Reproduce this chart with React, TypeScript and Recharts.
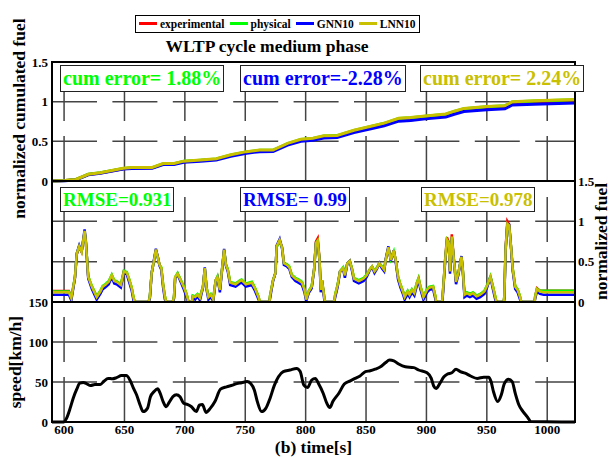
import React from 'react';
import { LineChart, Line, XAxis, YAxis, CartesianGrid, Legend, Label } from 'recharts';

// shared time axis
const timeDomain: [number, number] = [590, 1023];
const timeTicks = [600, 650, 700, 750, 800, 850, 900, 950, 1000];
const fuelTicks = [0, 0.5, 1, 1.5];
const speedTicks = [0, 50, 100, 150];

const seriesKeys = ['exp', 'phys', 'gnn', 'lnn'];
const seriesNames = ['experimental', 'physical', 'GNN10', 'LNN10'];
const seriesColors = ['#ff0000', '#00ff00', '#0000ff', '#c8c000'];

const cumErrorLabels = ['cum error= 1.88%', 'cum error=-2.28%', 'cum error= 2.24%'];
const rmseLabels = ['RMSE=0.931', 'RMSE= 0.99', 'RMSE=0.978'];

// cumulated fuel (top panel)
const cumTime = [590, 601, 610, 620, 630, 649, 656, 673, 682, 691, 699, 713, 726, 738, 751, 762, 773, 785, 796, 806, 815, 826, 840, 854, 865, 877, 887, 899, 916, 923, 931, 950, 965, 971, 989, 1023];
const cumExp = [0, 0.005, 0.02, 0.083, 0.102, 0.155, 0.165, 0.166, 0.214, 0.215, 0.244, 0.259, 0.274, 0.322, 0.361, 0.381, 0.382, 0.464, 0.513, 0.528, 0.557, 0.562, 0.626, 0.675, 0.714, 0.773, 0.783, 0.802, 0.827, 0.861, 0.895, 0.92, 0.93, 0.98, 0.99, 1.005];
const cumPhys = [0, 0.005, 0.02, 0.085, 0.104, 0.158, 0.168, 0.169, 0.218, 0.219, 0.248, 0.263, 0.278, 0.327, 0.367, 0.387, 0.388, 0.472, 0.522, 0.537, 0.567, 0.572, 0.637, 0.687, 0.727, 0.787, 0.797, 0.817, 0.842, 0.877, 0.912, 0.937, 0.947, 0.997, 1.007, 1.024];
const cumGnn = [0, 0.003, 0.015, 0.078, 0.097, 0.15, 0.159, 0.16, 0.207, 0.208, 0.236, 0.25, 0.265, 0.312, 0.35, 0.37, 0.371, 0.452, 0.5, 0.515, 0.543, 0.548, 0.61, 0.658, 0.696, 0.754, 0.764, 0.783, 0.808, 0.841, 0.875, 0.899, 0.91, 0.958, 0.968, 0.982];
const cumLnn = [0, 0.005, 0.02, 0.085, 0.105, 0.16, 0.17, 0.17, 0.22, 0.22, 0.25, 0.265, 0.28, 0.33, 0.37, 0.39, 0.39, 0.475, 0.525, 0.54, 0.57, 0.575, 0.64, 0.69, 0.73, 0.79, 0.8, 0.82, 0.845, 0.88, 0.915, 0.94, 0.95, 1.0, 1.01, 1.027];

// instantaneous fuel (middle panel)
const fuelTime = [
  590, 604, 606, 609, 610.5, 612.5, 614.5, 617, 618, 620,
  623, 627, 630, 632, 634, 637, 639.5, 641.5, 643.5, 647,
  649.5, 652, 654, 656, 657.5, 658.5, 670, 671, 672.5, 674.5,
  676, 677.5, 679, 680.5, 682, 683.5, 684.5, 690, 691, 692,
  694, 696.5, 699, 701, 702, 703, 706, 706.5, 708.5, 710.5,
  712.5, 715, 716.5, 718, 719.5, 721.5, 723.5, 725.5, 727, 729,
  731, 732.5, 734, 735.5, 737.5, 742, 745.5, 747, 750.5, 755.5,
  758, 761, 762, 770, 770.5, 773, 775, 776, 778.5, 780.5,
  782, 784.5, 786.5, 788.5, 791.5, 794, 797, 799, 800.5, 802.5,
  805, 807, 808.5, 810, 811.5, 812.5, 813.5, 815.5, 816, 823.5,
  824.5, 826.5, 828.5, 831, 832.5, 834.5, 836.5, 838.5, 840, 844,
  848, 850.5, 853, 855, 857, 859, 861, 863, 865, 866.5,
  868.5, 870.5, 873, 874.5, 876.5, 878.5, 880.5, 882, 884.5, 886,
  888, 890, 892, 893.5, 895, 897.5, 900.5, 902.5, 905.5, 907.5,
  908, 913, 913.5, 915.5, 917, 918.5, 919.5, 921, 922.5, 924.5,
  926.5, 929, 930, 931.5, 933.5, 936, 938.5, 941.5, 944.5, 948,
  950.5, 953, 955, 957, 958, 964, 964.5, 965.5, 967, 968.5,
  970, 971.5, 973.5, 975.5, 977.5, 978.5, 989.5, 990, 991.5, 994,
  997, 1023,
];
const fuelExp = [
  0.135, 0.135, 0.05, 0.3, 0.59, 0.68, 0.62, 0.87, 0.74, 0.31,
  0.19, 0.07, 0.13, 0.19, 0.21, 0.25, 0.33, 0.26, 0.25, 0.21,
  0.38, 0.35, 0.27, 0.17, 0.05, 0, 0, 0.06, 0.35, 0.52,
  0.64, 0.57, 0.46, 0.42, 0.21, 0.06, 0, 0, 0.06, 0.3,
  0.35, 0.27, 0.19, 0.11, 0.06, 0, 0, 0.07, 0.07, 0.09,
  0.06, 0.19, 0.41, 0.17, 0.07, 0.09, 0.04, 0.27, 0.31, 0.15,
  0.44, 0.64, 0.46, 0.4, 0.24, 0.22, 0.26, 0.27, 0.22, 0.24,
  0.17, 0.06, 0, 0, 0.07, 0.27, 0.36, 0.69, 0.76, 0.68,
  0.49, 0.46, 0.43, 0.33, 0.29, 0.27, 0.24, 0.15, 0.04, 0.13,
  0.19, 0.4, 0.75, 0.79, 0.53, 0.15, 0.27, 0.05, 0, 0,
  0.09, 0.21, 0.38, 0.42, 0.33, 0.48, 0.51, 0.4, 0.29, 0.26,
  0.29, 0.33, 0.4, 0.44, 0.38, 0.42, 0.48, 0.44, 0.4, 0.54,
  0.67, 0.52, 0.64, 0.52, 0.31, 0.21, 0.13, 0.07, 0.13, 0.09,
  0.15, 0.11, 0.23, 0.29, 0.19, 0.06, 0.15, 0.18, 0.19, 0.06,
  0, 0, 0.09, 0.53, 0.8, 0.74, 0.38, 0.84, 0.57, 0.25,
  0.36, 0.56, 0.42, 0.1, 0.11, 0.1, 0.11, 0.08, 0.09, 0.13,
  0.21, 0.31, 0.19, 0.06, 0, 0, 0.07, 0.66, 1.0, 0.96,
  0.69, 0.4, 0.19, 0.15, 0.06, 0, 0, 0.07, 0.17, 0.14,
  0.14, 0.14,
];
const fuelPhys = [
  0.13, 0.13, 0.05, 0.31, 0.6, 0.69, 0.63, 0.87, 0.75, 0.32,
  0.2, 0.07, 0.14, 0.2, 0.22, 0.26, 0.34, 0.27, 0.26, 0.22,
  0.39, 0.37, 0.28, 0.18, 0.06, 0, 0, 0.07, 0.36, 0.51,
  0.64, 0.56, 0.46, 0.43, 0.22, 0.07, 0, 0, 0.07, 0.31,
  0.36, 0.28, 0.2, 0.12, 0.07, 0, 0, 0.08, 0.07, 0.1,
  0.06, 0.19, 0.41, 0.18, 0.07, 0.1, 0.04, 0.27, 0.32, 0.16,
  0.44, 0.64, 0.47, 0.41, 0.25, 0.23, 0.27, 0.28, 0.23, 0.25,
  0.18, 0.07, 0, 0, 0.08, 0.27, 0.36, 0.68, 0.76, 0.67,
  0.48, 0.47, 0.44, 0.34, 0.3, 0.28, 0.25, 0.16, 0.04, 0.14,
  0.2, 0.4, 0.73, 0.76, 0.52, 0.16, 0.27, 0.06, 0, 0,
  0.1, 0.22, 0.38, 0.43, 0.34, 0.48, 0.51, 0.41, 0.3, 0.27,
  0.3, 0.34, 0.4, 0.44, 0.39, 0.43, 0.48, 0.45, 0.41, 0.54,
  0.67, 0.53, 0.63, 0.52, 0.32, 0.22, 0.14, 0.07, 0.14, 0.1,
  0.16, 0.12, 0.24, 0.3, 0.2, 0.07, 0.16, 0.19, 0.2, 0.07,
  0, 0, 0.1, 0.52, 0.77, 0.73, 0.39, 0.8, 0.56, 0.26,
  0.37, 0.56, 0.43, 0.1, 0.12, 0.1, 0.12, 0.08, 0.1, 0.14,
  0.22, 0.32, 0.2, 0.07, 0, 0, 0.08, 0.64, 0.96, 0.94,
  0.69, 0.41, 0.2, 0.16, 0.07, 0, 0, 0.07, 0.16, 0.14,
  0.14, 0.14,
];
const fuelGnn = [
  0.09, 0.09, 0.02, 0.3, 0.6, 0.7, 0.62, 0.9, 0.76, 0.29,
  0.16, 0.03, 0.1, 0.16, 0.18, 0.22, 0.31, 0.23, 0.22, 0.18,
  0.37, 0.34, 0.24, 0.14, 0.02, 0, 0, 0.04, 0.36, 0.53,
  0.66, 0.56, 0.45, 0.4, 0.18, 0.03, 0, 0, 0.04, 0.3,
  0.34, 0.25, 0.16, 0.08, 0.03, 0, 0, 0.05, 0.03, 0.07,
  0.02, 0.18, 0.43, 0.15, 0.03, 0.06, 0.01, 0.26, 0.3, 0.12,
  0.43, 0.66, 0.45, 0.38, 0.21, 0.19, 0.23, 0.24, 0.19, 0.21,
  0.14, 0.03, 0, 0, 0.04, 0.26, 0.36, 0.7, 0.78, 0.66,
  0.46, 0.44, 0.41, 0.31, 0.26, 0.24, 0.21, 0.12, 0.01, 0.11,
  0.17, 0.4, 0.73, 0.75, 0.51, 0.12, 0.26, 0.02, 0, 0,
  0.06, 0.19, 0.38, 0.41, 0.3, 0.48, 0.51, 0.38, 0.26, 0.23,
  0.26, 0.31, 0.39, 0.43, 0.36, 0.41, 0.48, 0.42, 0.38, 0.55,
  0.69, 0.51, 0.64, 0.5, 0.28, 0.18, 0.1, 0.03, 0.1, 0.06,
  0.12, 0.08, 0.2, 0.27, 0.16, 0.03, 0.12, 0.15, 0.16, 0.03,
  0, 0, 0.06, 0.5, 0.75, 0.72, 0.35, 0.8, 0.55, 0.22,
  0.34, 0.57, 0.4, 0.06, 0.08, 0.06, 0.08, 0.04, 0.06, 0.1,
  0.19, 0.31, 0.16, 0.03, 0, 0, 0.04, 0.63, 0.97, 0.96,
  0.68, 0.38, 0.16, 0.12, 0.03, 0, 0, 0.04, 0.13, 0.1,
  0.09, 0.09,
];
const fuelLnn = [
  0.12, 0.12, 0.045, 0.31, 0.6, 0.69, 0.62, 0.88, 0.75, 0.31,
  0.19, 0.06, 0.13, 0.19, 0.21, 0.25, 0.33, 0.26, 0.25, 0.21,
  0.38, 0.36, 0.27, 0.17, 0.05, 0, 0, 0.06, 0.36, 0.52,
  0.65, 0.56, 0.46, 0.42, 0.21, 0.06, 0, 0, 0.06, 0.31,
  0.35, 0.27, 0.19, 0.11, 0.06, 0, 0, 0.07, 0.06, 0.09,
  0.05, 0.19, 0.42, 0.17, 0.06, 0.09, 0.03, 0.27, 0.31, 0.15,
  0.44, 0.65, 0.46, 0.4, 0.24, 0.22, 0.26, 0.27, 0.22, 0.24,
  0.17, 0.06, 0, 0, 0.07, 0.27, 0.36, 0.69, 0.77, 0.67,
  0.48, 0.46, 0.43, 0.33, 0.29, 0.27, 0.24, 0.15, 0.03, 0.13,
  0.19, 0.4, 0.73, 0.76, 0.52, 0.15, 0.27, 0.05, 0, 0,
  0.09, 0.21, 0.38, 0.42, 0.33, 0.48, 0.51, 0.4, 0.29, 0.26,
  0.29, 0.33, 0.4, 0.44, 0.38, 0.42, 0.48, 0.44, 0.4, 0.54,
  0.68, 0.52, 0.64, 0.52, 0.31, 0.21, 0.13, 0.06, 0.13, 0.09,
  0.15, 0.11, 0.23, 0.29, 0.19, 0.06, 0.15, 0.18, 0.19, 0.06,
  0, 0, 0.09, 0.52, 0.77, 0.73, 0.38, 0.81, 0.56, 0.25,
  0.36, 0.56, 0.42, 0.09, 0.11, 0.09, 0.11, 0.07, 0.09, 0.13,
  0.21, 0.31, 0.19, 0.06, 0, 0, 0.07, 0.64, 0.97, 0.95,
  0.69, 0.4, 0.19, 0.15, 0.06, 0, 0, 0.06, 0.16, 0.13,
  0.12, 0.12,
];

// vehicle speed (bottom panel)
const speedTime = [
  590, 600, 602, 605, 607.5, 610.5, 613, 616, 618.5, 622,
  625.5, 630, 633, 636.5, 640, 643.5, 647.5, 651.5, 654.5, 657.5,
  660, 663, 665.5, 669, 671.5, 674.5, 677.5, 679.5, 682, 684.5,
  687, 690, 693, 696, 699, 702, 705.5, 709.5, 712, 714.5,
  717.5, 721, 725, 729.5, 734.5, 739.5, 743, 747, 751.5, 754.5,
  757.5, 760, 763.5, 767, 770.5, 774, 777.5, 781.5, 787, 792.5,
  795.5, 798.5, 801.5, 805, 808, 810.5, 814.5, 817.5, 820, 822.5,
  827.5, 832, 837, 841, 845, 849.5, 853.5, 857.5, 862, 866,
  869.5, 873, 877, 882.5, 889.5, 893.5, 900.5, 904, 906, 908,
  911, 914.5, 917.5, 921, 924.5, 928, 932, 936.5, 942, 947.5,
  951.5, 953.5, 955.5, 959, 962, 964.5, 968, 971, 973.5, 976.5,
  980, 983.5, 986.5, 1023,
];
const speed = [
  0, 0, 4.5, 17, 29.5, 41, 48.5, 49.5, 48, 45.5,
  47, 47, 51, 54.5, 54, 55.5, 58, 58, 52.5, 42,
  34, 21, 13, 17, 31.5, 38, 41.5, 36, 25.5, 19,
  24.5, 31.5, 34, 31.5, 23.5, 22, 19, 13, 21, 22,
  12, 17, 26, 41, 44, 46, 48, 49, 50.5, 48,
  40, 25.5, 13, 17, 29.5, 45.5, 56.5, 63, 65, 67,
  63, 46, 43, 52.5, 54.5, 48.5, 36, 23.5, 18, 25.5,
  36, 47.5, 51.5, 54.5, 57.5, 63, 64, 66, 69, 74,
  77.5, 76.5, 72.5, 69, 68, 65, 61.5, 54.5, 45, 42,
  48, 56.5, 60, 61.5, 66, 63, 61, 57.5, 54.5, 56,
  56, 50.5, 38, 25.5, 34, 48, 53.5, 50.5, 36, 21.5,
  13, 6.5, 0.5, 0,
];

const cumRows = cumTime.map((t, i) => ({ t, exp: cumExp[i], phys: cumPhys[i], gnn: cumGnn[i], lnn: cumLnn[i] }));
const fuelRows = fuelTime.map((t, i) => ({ t, exp: fuelExp[i], phys: fuelPhys[i], gnn: fuelGnn[i], lnn: fuelLnn[i] }));
const speedRows = speedTime.map((t, i) => ({ t, v: speed[i] }));

// page layout
const W = 611;
const H = 457;
const PLOT_L = 52;
const PLOT_R = 575;
const AXIS_W = 40;
const panels = [
  { top: 62, bottom: 181 },
  { top: 181, bottom: 302 },
  { top: 302, bottom: 422 },
];
const SERIF = '"Liberation Serif", "Times New Roman", serif';
const GRID = '#444';

const tickFont = { fill: '#000', fontSize: 13, fontWeight: 700, fontFamily: SERIF };
const titleFont: React.CSSProperties = { fontFamily: SERIF, fontWeight: 700, fontSize: 17.5, fill: '#000' };

// rotated axis title, placed relative to the axis box
const sideTitle = (text: string, dx: number, dy: number) => (props: any) => {
  const vb = props.viewBox || {};
  const x = vb.x + dx;
  const y = vb.y + vb.height / 2 + dy;
  return (
    <text x={x} y={y} transform={`rotate(-90 ${x} ${y})`} textAnchor="middle" style={titleFont}>
      {text}
    </text>
  );
};

const bottomTitle = (text: string) => (props: any) => {
  const vb = props.viewBox || {};
  return (
    <text x={vb.x + vb.width / 2} y={vb.y + 31} textAnchor="middle" style={titleFont}>
      {text}
    </text>
  );
};

const LegendBox = ({ payload }: any) => {
  const items = [...(payload || [])].sort(
    (a: any, b: any) => seriesNames.indexOf(a.value) - seriesNames.indexOf(b.value),
  );
  return (
    <div
      style={{
        display: 'inline-flex',
        alignItems: 'center',
        height: 18,
        padding: '0 3px 0 3px',
        border: '1.5px solid #000',
        background: '#fff',
        boxSizing: 'border-box',
        fontFamily: SERIF,
        fontWeight: 700,
        fontSize: 11.5,
        whiteSpace: 'nowrap',
      }}
    >
      {items.map((item: any, i: number) => (
        <span key={item.value} style={{ display: 'inline-flex', alignItems: 'center', marginLeft: i ? 5 : 0 }}>
          <span style={{ display: 'inline-block', width: 18, height: 3, background: item.color, marginRight: 3 }} />
          {item.value}
        </span>
      ))}
    </div>
  );
};

const Tag = ({ left, top, height, color, fontSize, text }: any) => (
  <div
    style={{
      position: 'absolute',
      left,
      top,
      height,
      lineHeight: `${height - 2}px`,
      padding: '0 2px',
      border: '1px solid #222',
      background: '#fff',
      boxSizing: 'border-box',
      color,
      fontFamily: SERIF,
      fontWeight: 700,
      fontSize,
      whiteSpace: 'pre',
    }}
  >
    {text}
  </div>
);

const renderSeries = (width: number) =>
  seriesKeys.map((k, i) => (
    <Line
      key={k}
      type="linear"
      dataKey={k}
      name={seriesNames[i]}
      stroke={seriesColors[i]}
      strokeWidth={width}
      dot={false}
      activeDot={false}
      isAnimationActive={false}
    />
  ));

const grids = (panelHeight: number, yTicks: number[]) => [
  <CartesianGrid key="h" vertical={false} stroke={GRID} strokeWidth={1.5} strokeDasharray="45 15.4" horizontalValues={yTicks} />,
  <CartesianGrid
    key="v"
    horizontal={false}
    stroke={GRID}
    strokeWidth={1.5}
    strokeDasharray="45 15"
    strokeDashoffset={(((45 - panelHeight) % 60) + 60) % 60}
    verticalValues={timeTicks}
  />,
];

const layer: React.CSSProperties = { position: 'absolute', left: 0, top: 0 };

export default function App() {
  const [cum, fuel, spd] = panels;
  const tagX = [60, 240, 420];
  return (
    <div style={{ position: 'absolute', left: 0, top: 0, width: W, height: H, background: '#fff', overflow: 'hidden' }}>
      <div style={layer}>
        <LineChart
          width={W}
          height={H}
          data={cumRows}
          margin={{ top: cum.top, bottom: H - cum.bottom, left: PLOT_L - AXIS_W, right: W - PLOT_R }}
        >
          {grids(cum.bottom - cum.top, fuelTicks)}
          <XAxis type="number" dataKey="t" domain={timeDomain} ticks={timeTicks} hide allowDataOverflow />
          <YAxis
            domain={[0, 1.5]}
            ticks={fuelTicks}
            interval={0}
            width={AXIS_W}
            axisLine={false}
            tickLine={false}
            tickSize={0}
            tickMargin={4}
            tick={tickFont}
          >
            <Label content={sideTitle('normalized cumulated fuel', 13, -3)} />
          </YAxis>
          {renderSeries(3)}
          <Legend
            layout="horizontal"
            verticalAlign="middle"
            align="center"
            wrapperStyle={{ left: 135, top: 11, width: 'auto', height: 'auto' }}
            content={LegendBox}
          />
        </LineChart>
      </div>

      <div style={layer}>
        <LineChart
          width={W}
          height={H}
          data={fuelRows}
          margin={{ top: fuel.top, bottom: H - fuel.bottom, left: PLOT_L, right: W - PLOT_R - 30 }}
        >
          {grids(fuel.bottom - fuel.top, fuelTicks)}
          <XAxis type="number" dataKey="t" domain={timeDomain} ticks={timeTicks} hide allowDataOverflow />
          <YAxis
            orientation="right"
            domain={[0, 1.5]}
            ticks={fuelTicks}
            interval={0}
            width={30}
            allowDataOverflow
            axisLine={false}
            tickLine={false}
            tickSize={0}
            tickMargin={3}
            tick={tickFont}
          >
            <Label content={sideTitle('normalized fuel', 32, 0)} />
          </YAxis>
          {renderSeries(2.5)}
        </LineChart>
      </div>

      <div style={layer}>
        <LineChart
          width={W}
          height={H}
          data={speedRows}
          margin={{ top: spd.top, bottom: H - spd.bottom - 30, left: PLOT_L - AXIS_W, right: W - PLOT_R }}
        >
          {grids(spd.bottom - spd.top, speedTicks)}
          <XAxis
            type="number"
            dataKey="t"
            domain={timeDomain}
            ticks={timeTicks}
            interval={0}
            height={30}
            allowDataOverflow
            axisLine={false}
            tickLine={false}
            tickSize={0}
            tickMargin={3}
            tick={tickFont}
          >
            <Label content={bottomTitle('(b) time[s]')} />
          </XAxis>
          <YAxis
            domain={[0, 150]}
            ticks={speedTicks}
            interval={0}
            width={AXIS_W}
            axisLine={false}
            tickLine={false}
            tickSize={0}
            tickMargin={4}
            tick={tickFont}
          >
            <Label content={sideTitle('speed[km/h]', 9, 0)} />
          </YAxis>
          <Line
            type="monotone"
            dataKey="v"
            name="speed"
            stroke="#000"
            strokeWidth={3}
            dot={false}
            activeDot={false}
            isAnimationActive={false}
          />
        </LineChart>
      </div>

      <svg width={W} height={H} style={{ ...layer, pointerEvents: 'none' }}>
        {panels.map((p, i) => (
          <rect key={i} x={PLOT_L} y={p.top} width={PLOT_R - PLOT_L} height={p.bottom - p.top} fill="none" stroke="#000" strokeWidth={2} />
        ))}
        <text x={267} y={52} textAnchor="middle" style={titleFont}>
          WLTP cycle medium phase
        </text>
      </svg>

      {cumErrorLabels.map((txt, i) => (
        <Tag key={txt} left={tagX[i]} top={65} height={27} fontSize={20} color={seriesColors[i + 1]} text={txt} />
      ))}
      {rmseLabels.map((txt, i) => (
        <Tag key={txt} left={tagX[i] + (i === 2 ? 1 : 0)} top={187} height={25} fontSize={19} color={seriesColors[i + 1]} text={txt} />
      ))}
    </div>
  );
}
